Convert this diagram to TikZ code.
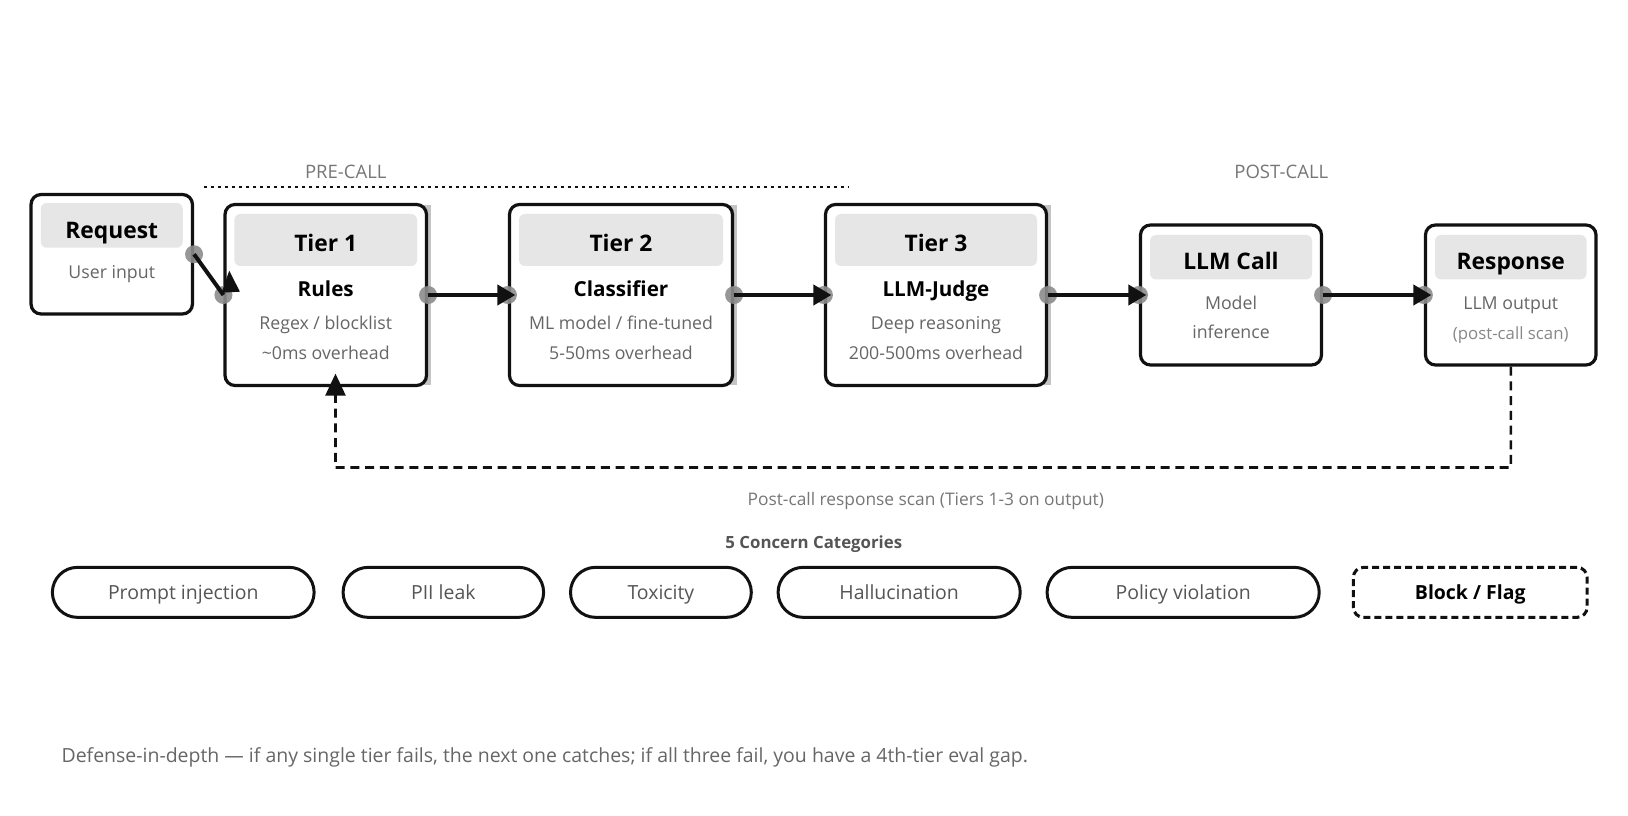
\documentclass[tikz,border=0pt]{standalone}
\usepackage{fontspec}
\setmainfont{Open Sans}
\usetikzlibrary{arrows.meta,calc}
\definecolor{boxline}{HTML}{111111}
\definecolor{hdrgray}{HTML}{E6E6E6}
\definecolor{txtgray}{HTML}{666666}
\definecolor{ltgray}{HTML}{888888}
\definecolor{lblgray}{HTML}{777777}
\definecolor{portgray}{HTML}{8C8C8C}
\definecolor{pilltxt}{HTML}{555555}
\definecolor{stripgray}{HTML}{C4C4C4}
\begin{document}
\begin{tikzpicture}[x=0.75pt,y=-0.75pt,
  box/.style={draw=boxline, line width=2.4pt, rounded corners=7.5pt, fill=white, inner sep=0pt},
  hdr/.style={fill=hdrgray, rounded corners=4.5pt, inner sep=0pt},
  port/.style={circle, fill=portgray, fill opacity=0.9, minimum size=13.5pt, inner sep=0pt},
  ttl/.style={font=\fontsize{17.1pt}{19pt}\selectfont\bfseries, text=black, anchor=base, inner sep=0pt},
  sub/.style={font=\fontsize{15.5pt}{17pt}\selectfont\bfseries, text=black, anchor=base, inner sep=0pt},
  det/.style={font=\fontsize{13.3pt}{15pt}\selectfont, text=txtgray, anchor=base, inner sep=0pt},
  note/.style={font=\fontsize{12.6pt}{14pt}\selectfont, text=ltgray, anchor=base, inner sep=0pt},
  phase/.style={font=\fontsize{13.9pt}{15pt}\selectfont, text=lblgray, anchor=base, inner sep=0pt},
  flow/.style={draw=boxline, line width=3pt, -{Triangle[length=13.5pt,width=15pt]}},
  fb/.style={draw=boxline, line width=1.9pt, dash pattern=on 6.75pt off 4.3pt, -{Triangle[length=16.5pt,width=15pt]}},
  dotline/.style={draw=boxline, line width=1.5pt, dash pattern=on 2.25pt off 3pt},
  pill/.style={draw=boxline, line width=2.25pt, rounded corners=18.75pt, minimum height=37.5pt, inner sep=0pt,
    font=\fontsize{14.6pt}{16pt}\selectfont, text=pilltxt, text height=1.0em, text depth=0em},
  blockpill/.style={draw=boxline, line width=2.25pt, rounded corners=7.5pt, minimum height=37.5pt, inner sep=0pt,
    dash pattern=on 5.25pt off 3pt, font=\fontsize{14.6pt}{16pt}\selectfont\bfseries, text=black, text height=1.0em, text depth=0em},
  strip/.style={fill=stripgray}
]
\useasboundingbox[fill=white] (0,0) rectangle (1628,816);

% phase labels and dotted line
\node[phase] (pre) at (345.8,178.3) {PRE-CALL};
\node[phase] (post) at (1281.3,178.3) {POST-CALL};
\coordinate (dotL) at (203.5,186.7);
\coordinate (dotR) at (849.3,186.7);
\draw[dotline] (dotL) -- (dotR);

% gray strips behind tier boxes
\fill[strip] (416,205) rectangle (430.5,385);
\fill[strip] (722,205) rectangle (736.5,385);
\fill[strip] (1036,205) rectangle (1050.5,385);

% boxes
\node[box, minimum width=121.1pt, minimum height=89.6pt] (req) at (111.75,254.25) {};
\node[box, minimum width=151.1pt, minimum height=135.75pt] (t1) at (325.75,295) {};
\node[box, minimum width=167.25pt, minimum height=135.75pt] (t2) at (621,295) {};
\node[box, minimum width=165.75pt, minimum height=135.75pt] (t3) at (936,295) {};
\node[box, minimum width=135.75pt, minimum height=105pt] (llm) at (1231,295) {};
\node[box, minimum width=127.9pt, minimum height=105pt] (resp) at (1510.75,295) {};

% headers
\node[hdr, minimum width=106.5pt, minimum height=33.5pt] (reqh) at (111.75,225.35) {};
\node[hdr, minimum width=137pt, minimum height=39pt] (t1h) at (325.75,240) {};
\node[hdr, minimum width=153pt, minimum height=39pt] (t2h) at (621,240) {};
\node[hdr, minimum width=151.5pt, minimum height=39pt] (t3h) at (936,240) {};
\node[hdr, minimum width=121.5pt, minimum height=33.3pt] (llmh) at (1231,257.2) {};
\node[hdr, minimum width=113.6pt, minimum height=33.3pt] (resph) at (1510.75,257.2) {};

% texts
\node[ttl] (reqT) at (111.75,238.3) {Request};
\node[det] (reqD) at (111.75,278.7) {User input};

\node[ttl] (t1T) at (325.75,251.7) {Tier 1};
\node[sub] (t1S) at (325.75,296.7) {Rules};
\node[det] (t1D1) at (325.75,330) {Regex / blocklist};
\node[det] (t1D2) at (325.75,359.3) {\textasciitilde 0ms overhead};

\node[ttl] (t2T) at (621,251.7) {Tier 2};
\node[sub] (t2S) at (621,296.7) {Classifier};
\node[det] (t2D1) at (621,330) {ML model / fine-tuned};
\node[det] (t2D2) at (621,359.3) {5-50ms overhead};

\node[ttl] (t3T) at (936,251.7) {Tier 3};
\node[sub] (t3S) at (936,296.7) {LLM-Judge};
\node[det] (t3D1) at (936,330) {Deep reasoning};
\node[det] (t3D2) at (936,359.3) {200-500ms overhead};

\node[ttl] (llmT) at (1231,270) {LLM Call};
\node[det] (llmD1) at (1231,310) {Model};
\node[det] (llmD2) at (1231,339) {inference};

\node[ttl] (respT) at (1510.75,270) {Response};
\node[det] (respD1) at (1510.75,310) {LLM output};
\node[note] (respD2) at (1510.75,339.5) {(post-call scan)};

% ports
\node[port] (req-o) at (req.east) {};
\node[port] (t1-i) at (t1.west) {};
\node[port] (t1-o) at (t1.east) {};
\node[port] (t2-i) at (t2.west) {};
\node[port] (t2-o) at (t2.east) {};
\node[port] (t3-i) at (t3.west) {};
\node[port] (t3-o) at (t3.east) {};
\node[port] (llm-i) at (llm.west) {};
\node[port] (llm-o) at (llm.east) {};
\node[port] (resp-i) at (resp.west) {};

% connectors
\draw[draw=boxline, line width=3pt] (req-o.center) -- (t1-i.center);
\fill[boxline] ($(t1-i.center)+(5.8,-24.3)$) -- ($(t1-i.center)+(-1.8,-2.3)$) -- ($(t1-i.center)+(16.5,-3.3)$) -- cycle;
\draw[flow] (t1-o.center) -- ([xshift=5.6pt]t2.west);
\draw[flow] (t2-o.center) -- ([xshift=5.6pt]t3.west);
\draw[flow] (t3-o.center) -- ([xshift=5.6pt]llm.west);
\draw[flow] (llm-o.center) -- ([xshift=5.6pt]resp.west);

% feedback
\coordinate (fbR) at (1510.75,467.5);
\coordinate (fbL) at (335.5,467.5);
\draw[fb] (resp.south) -- (fbR) -- (fbL) -- ([xshift=7.3pt,yshift=10.1pt]t1.south);
\node[phase, font=\fontsize{13pt}{15pt}\selectfont] (fbLabel) at (925.8,505) {Post-call response scan (Tiers 1-3 on output)};

% concerns
\node[phase, font=\fontsize{12.6pt}{14pt}\selectfont\bfseries, text=pilltxt] (cc) at (813.8,548.3) {5 Concern Categories};
\node[pill, minimum width=196.3pt] (p1) at (183.25,592.35) {Prompt injection};
\node[pill, minimum width=150.4pt] (p2) at (443.35,592.35) {PII leak};
\node[pill, minimum width=135.6pt] (p3) at (660.9,592.35) {Toxicity};
\node[pill, minimum width=181.6pt] (p4) at (899.15,592.35) {Hallucination};
\node[pill, minimum width=204.1pt] (p5) at (1183.15,592.35) {Policy violation};
\node[blockpill, minimum width=175.3pt] (bf) at (1470.25,592.35) {Block / Flag};

% footer
\node[det, anchor=base west, font=\fontsize{14.6pt}{16pt}\selectfont] (foot) at (61.3,762) {Defense-in-depth — if any single tier fails, the next one catches; if all three fail, you have a 4th-tier eval gap.};
\end{tikzpicture}
\end{document}
